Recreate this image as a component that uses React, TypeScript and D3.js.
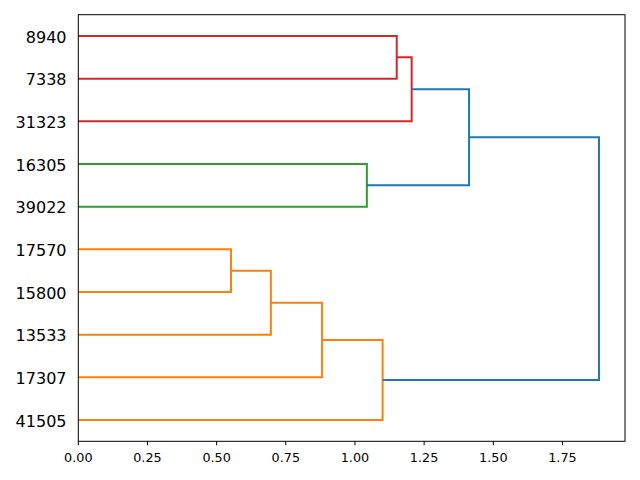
import React from "react";
import * as d3 from "d3";

// Leaf labels, top to bottom
const leafLabels = ["8940", "7338", "31323", "16305", "39022", "17570", "15800", "13533", "17307", "41505"];

// Linkage: new cluster ids start at 10 (scipy style)
const mergeA = [0, 10, 3, 5, 13, 14, 15, 11, 17];
const mergeB = [1, 2, 4, 6, 7, 8, 9, 12, 16];
const mergeHeight = [1.151, 1.205, 1.043, 0.552, 0.696, 0.881, 1.100, 1.4125, 1.882];
const mergeGroup = ["C3", "C3", "C2", "C1", "C1", "C1", "C1", "C0", "C0"];

const xTicks = [0, 0.25, 0.5, 0.75, 1.0, 1.25, 1.5, 1.75];

const groupColor: Record<string, string> = {
  C0: "#1f77b4",
  C1: "#ff7f0e",
  C2: "#2ca02c",
  C3: "#d62728",
};

export default function App() {
  const W = 640, H = 480;
  const left = 78.3, right = 625, top = 14.7, bottom = 441.3;
  const xMax = d3.max(mergeHeight)! * 1.05;
  const x = d3.scaleLinear().domain([0, xMax]).range([left, right]);
  const y = d3.scalePoint<string>().domain(leafLabels).range([top, bottom]).padding(0.5);

  const n = leafLabels.length;
  const posY: number[] = leafLabels.map((l) => y(l)!);
  const posH: number[] = leafLabels.map(() => 0);
  const paths: { d: string; color: string }[] = [];
  const line = d3.line<[number, number]>();
  mergeA.forEach((a, i) => {
    const b = mergeB[i];
    const h = mergeHeight[i];
    const pts: [number, number][] = [
      [x(posH[a]), posY[a]],
      [x(h), posY[a]],
      [x(h), posY[b]],
      [x(posH[b]), posY[b]],
    ];
    paths.push({ d: line(pts)!, color: groupColor[mergeGroup[i]] });
    posY[n + i] = (posY[a] + posY[b]) / 2;
    posH[n + i] = h;
  });

  const fmt = d3.format(".2f");

  return (
    <svg width={W} height={H} style={{ position: "absolute", left: 0, top: 0, background: "#fff" }}
      fontFamily="DejaVu Sans">
      <rect x={0} y={0} width={W} height={H} fill="#fff" />
      {paths.map((p, i) => (
        <path key={i} d={p.d} fill="none" stroke={p.color} strokeWidth={2} strokeLinejoin="miter" />
      ))}
      <rect x={left} y={top} width={right - left} height={bottom - top} fill="none" stroke="#000" strokeWidth={1} />
      {xTicks.map((t) => (
        <g key={t}>
          <line x1={x(t)} x2={x(t)} y1={bottom} y2={bottom + 4} stroke="#000" strokeWidth={1} />
          <text x={x(t)} y={462.3} fontSize={12.8} textAnchor="middle" fill="#000">{fmt(t)}</text>
        </g>
      ))}
      {leafLabels.map((l) => (
        <text key={l} x={66.5} y={y(l)! + 6.8} fontSize={16} textAnchor="end" fill="#000">{l}</text>
      ))}
    </svg>
  );
}
